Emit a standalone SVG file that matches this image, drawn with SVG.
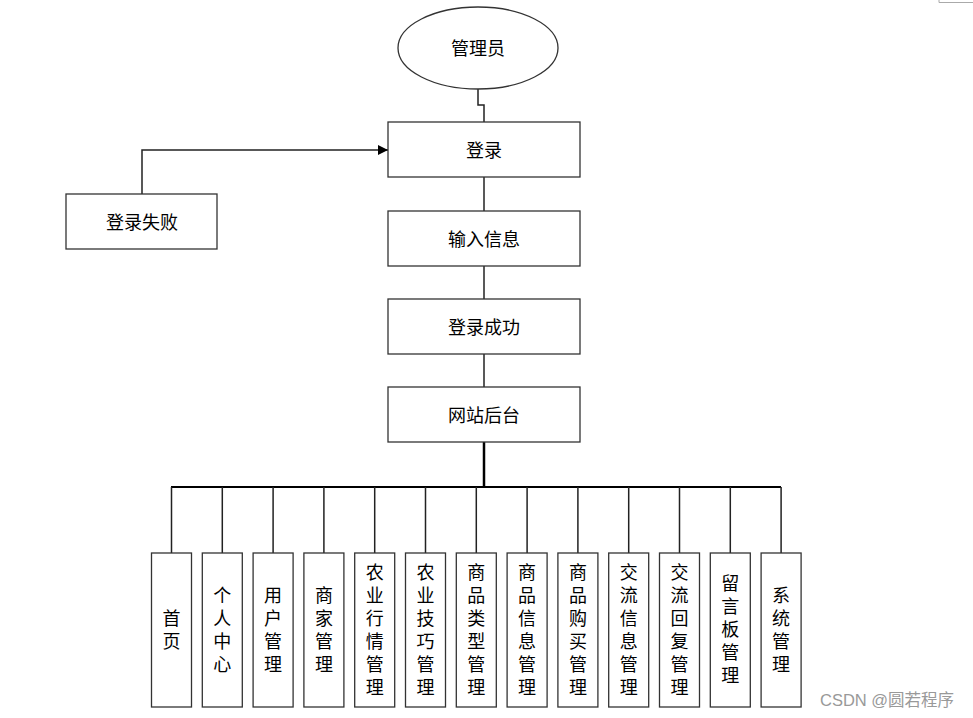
<svg xmlns="http://www.w3.org/2000/svg" width="973" height="718" viewBox="0 0 973 718">
<style>
.box{fill:#fff;stroke:#333;stroke-width:1.3}
.t{font-family:"Noto Sans CJK SC","Liberation Sans",sans-serif;font-size:18px;fill:#000;text-anchor:middle;dominant-baseline:central}
.v{font-family:"Noto Sans CJK SC","Liberation Sans",sans-serif;font-size:18px;fill:#000;text-anchor:middle;writing-mode:vertical-rl;letter-spacing:5px;dominant-baseline:central}
.ln{fill:none;stroke:#222;stroke-width:1.5}
.wm{font-family:"Liberation Sans","Noto Sans CJK SC",sans-serif;font-size:16.5px;fill:#999}
</style>
<defs>
<marker id="ah" markerWidth="10" markerHeight="10" refX="10" refY="5" orient="auto" markerUnits="userSpaceOnUse">
<path d="M0,0 L10,5 L0,10 Z" fill="#000"/>
</marker>
</defs>
<rect width="973" height="718" fill="#fff"/>
<path d="M939,0 V2.5 H973" fill="none" stroke="#aaa" stroke-width="1"/>
<g id="connectors">
<path class="ln" d="M478,89 V105 H484 V122"/>
<path class="ln" d="M484,177 V211"/>
<path class="ln" d="M484,266 V299"/>
<path class="ln" d="M484,354 V387"/>
<path class="ln" d="M142,194 V150 H388" stroke="#000" marker-end="url(#ah)"/>
<path d="M484,442 V487" fill="none" stroke="#000" stroke-width="2.5"/>
<path d="M171,487 H781" fill="none" stroke="#000" stroke-width="2"/>
<path class="ln" d="M171.5,487V553 M222.3,487V553 M273.1,487V553 M323.9,487V553 M374.7,487V553 M425.5,487V553 M476.3,487V553 M527.1,487V553 M577.9,487V553 M628.7,487V553 M679.5,487V553 M730.3,487V553 M781.1,487V553"/>
</g>
<g id="admin">
<ellipse cx="478" cy="48" rx="80" ry="41" fill="#fff" stroke="#333" stroke-width="1.3"/>
<text class="t" x="478" y="47">管理员</text>
</g>
<g id="login">
<rect class="box" x="388" y="122" width="192" height="55"/>
<text class="t" x="484" y="149">登录</text>
</g>
<g id="fail">
<rect class="box" x="66" y="194" width="151" height="55"/>
<text class="t" x="142" y="221">登录失败</text>
</g>
<g id="input">
<rect class="box" x="388" y="211" width="192" height="55"/>
<text class="t" x="484" y="238">输入信息</text>
</g>
<g id="success">
<rect class="box" x="388" y="299" width="192" height="55"/>
<text class="t" x="484" y="326">登录成功</text>
</g>
<g id="backend">
<rect class="box" x="388" y="387" width="192" height="55"/>
<text class="t" x="484" y="414">网站后台</text>
</g>
<g id="m1"><rect class="box" x="151.5" y="553" width="40" height="154"/><text class="v" x="171.5" y="632">首页</text></g>
<g id="m2"><rect class="box" x="202.3" y="553" width="40" height="154"/><text class="v" x="222.3" y="632">个人中心</text></g>
<g id="m3"><rect class="box" x="253.1" y="553" width="40" height="154"/><text class="v" x="273.1" y="632">用户管理</text></g>
<g id="m4"><rect class="box" x="303.9" y="553" width="40" height="154"/><text class="v" x="323.9" y="632">商家管理</text></g>
<g id="m5"><rect class="box" x="354.7" y="553" width="40" height="154"/><text class="v" x="374.7" y="632">农业行情管理</text></g>
<g id="m6"><rect class="box" x="405.5" y="553" width="40" height="154"/><text class="v" x="425.5" y="632">农业技巧管理</text></g>
<g id="m7"><rect class="box" x="456.3" y="553" width="40" height="154"/><text class="v" x="476.3" y="632">商品类型管理</text></g>
<g id="m8"><rect class="box" x="507.1" y="553" width="40" height="154"/><text class="v" x="527.1" y="632">商品信息管理</text></g>
<g id="m9"><rect class="box" x="557.9" y="553" width="40" height="154"/><text class="v" x="577.9" y="632">商品购买管理</text></g>
<g id="m10"><rect class="box" x="608.7" y="553" width="40" height="154"/><text class="v" x="628.7" y="632">交流信息管理</text></g>
<g id="m11"><rect class="box" x="659.5" y="553" width="40" height="154"/><text class="v" x="679.5" y="632">交流回复管理</text></g>
<g id="m12"><rect class="box" x="710.3" y="553" width="40" height="154"/><text class="v" x="730.3" y="632">留言板管理</text></g>
<g id="m13"><rect class="box" x="761.1" y="553" width="40" height="154"/><text class="v" x="781.1" y="632">系统管理</text></g>
<text class="wm" x="820" y="706">CSDN @圆若程序</text>
</svg>
